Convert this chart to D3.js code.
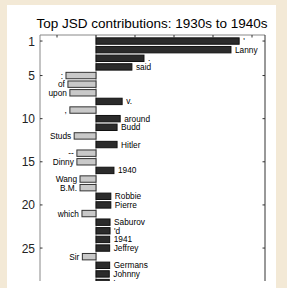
<!DOCTYPE html>
<html>
<head>
<meta charset="utf-8">
<script src="https://cdn.jsdelivr.net/npm/d3@7"></script>
<style>
  html, body { margin: 0; padding: 0; background: #f3e9d6; }
  svg { display: block; font-family: "Liberation Sans", Arial, sans-serif; }
</style>
</head>
<body>
<svg id="chart" width="287" height="288"></svg>
<script>
// words ranked by JSD contribution, positive = more in 1940s
var words = ["'", 'Lanny', '.', 'said', ':', 'of', 'upon', 'v.', ',', 'around',
  'Budd', 'Studs', 'Hitler', '--', 'Dinny', '1940', 'Wang', 'B.M.', 'Robbie',
  'Pierre', 'which', 'Saburov', "'d", '1941', 'Jeffrey', 'Sir', 'Germans',
  'Johnny', 'I'];
var contrib = [0.0367, 0.0346, 0.0123, 0.0092, -0.0077, -0.0072, -0.0067, 0.0067,
  -0.0067, 0.0062, 0.0054, -0.0056, 0.0054, -0.0049, -0.0049, 0.0046, -0.0041,
  -0.0041, 0.0038, 0.0038, -0.0036, 0.0036, 0.0036, 0.0035, 0.0035, -0.0035,
  0.0035, 0.0034, 0.0034];
var yTicks = [1, 5, 10, 15, 20, 25];
var xTicks = [-0.01, 0, 0.01, 0.02, 0.03, 0.04];

var svg = d3.select('#chart');

// white figure area
svg.append('rect')
  .attr('x', 7).attr('y', 5)
  .attr('width', 269).attr('height', 283)
  .attr('fill', '#fff');

var pLeft = 40, pRight = 265, pTop = 35, pBottom = 281;

var x = d3.scaleLinear()
  .domain([-0.01436, 0.04333])
  .range([pLeft, pRight]);

var y = d3.scaleLinear()
  .domain([0.3, 28.82])
  .range([pTop, pBottom]);

svg.append('text')
  .attr('x', 152).attr('y', 28)
  .attr('text-anchor', 'middle')
  .attr('font-size', 13.5)
  .attr('fill', '#000')
  .text('Top JSD contributions: 1930s to 1940s');

svg.append('clipPath').attr('id', 'clip')
  .append('rect')
  .attr('x', 0).attr('y', pTop)
  .attr('width', 287).attr('height', pBottom - pTop);

var g = svg.append('g').attr('clip-path', 'url(#clip)');

// zero line
g.append('line')
  .attr('x1', x(0)).attr('x2', x(0))
  .attr('y1', pTop).attr('y2', pBottom)
  .attr('stroke', '#999').attr('stroke-width', 1);

var rows = d3.range(words.length).map(function(i) {
  return { word: words[i], v: contrib[i], rank: i + 1 };
});

var bh = 6.4;

g.selectAll('rect.bar')
  .data(rows)
  .enter()
  .append('rect')
  .attr('class', 'bar')
  .attr('x', d => Math.min(x(0), x(d.v)))
  .attr('y', d => y(d.rank) - bh / 2)
  .attr('width', d => Math.abs(x(d.v) - x(0)))
  .attr('height', bh)
  .attr('fill', d => d.v > 0 ? '#2b2b2b' : '#c9c9c9')
  .attr('stroke', d => d.v > 0 ? '#111' : '#333')
  .attr('stroke-width', 1);

g.selectAll('text.lab')
  .data(rows)
  .enter()
  .append('text')
  .attr('class', 'lab')
  .attr('x', d => d.v > 0 ? x(d.v) + 4 : x(d.v) - 3)
  .attr('y', d => y(d.rank) + 3)
  .attr('text-anchor', d => d.v > 0 ? 'start' : 'end')
  .attr('font-size', 8.3)
  .attr('fill', '#000')
  .text(d => d.word);

// axes frame
svg.append('line')
  .attr('x1', pLeft).attr('x2', pRight)
  .attr('y1', pTop).attr('y2', pTop)
  .attr('stroke', '#888');
svg.append('line')
  .attr('x1', pLeft).attr('x2', pLeft)
  .attr('y1', pTop).attr('y2', pBottom)
  .attr('stroke', '#888');
svg.append('line')
  .attr('x1', pRight).attr('x2', pRight)
  .attr('y1', pTop).attr('y2', pBottom)
  .attr('stroke', '#333');

// top ticks
svg.selectAll('line.xt')
  .data(xTicks)
  .enter()
  .append('line')
  .attr('x1', d => x(d)).attr('x2', d => x(d))
  .attr('y1', pTop).attr('y2', pTop + 2.5)
  .attr('stroke', '#333');

// left and right ticks
svg.selectAll('line.yl')
  .data(yTicks)
  .enter()
  .append('line')
  .attr('x1', pLeft).attr('x2', pLeft + 2.5)
  .attr('y1', d => y(d)).attr('y2', d => y(d))
  .attr('stroke', '#333');
svg.selectAll('line.yr')
  .data(yTicks)
  .enter()
  .append('line')
  .attr('x1', pRight - 2.5).attr('x2', pRight)
  .attr('y1', d => y(d)).attr('y2', d => y(d))
  .attr('stroke', '#333');

svg.selectAll('text.yt')
  .data(yTicks)
  .enter()
  .append('text')
  .attr('x', pLeft - 5)
  .attr('y', d => y(d) + 4.5)
  .attr('text-anchor', 'end')
  .attr('font-size', 12)
  .attr('fill', '#222')
  .text(d => d);
</script>
</body>
</html>
